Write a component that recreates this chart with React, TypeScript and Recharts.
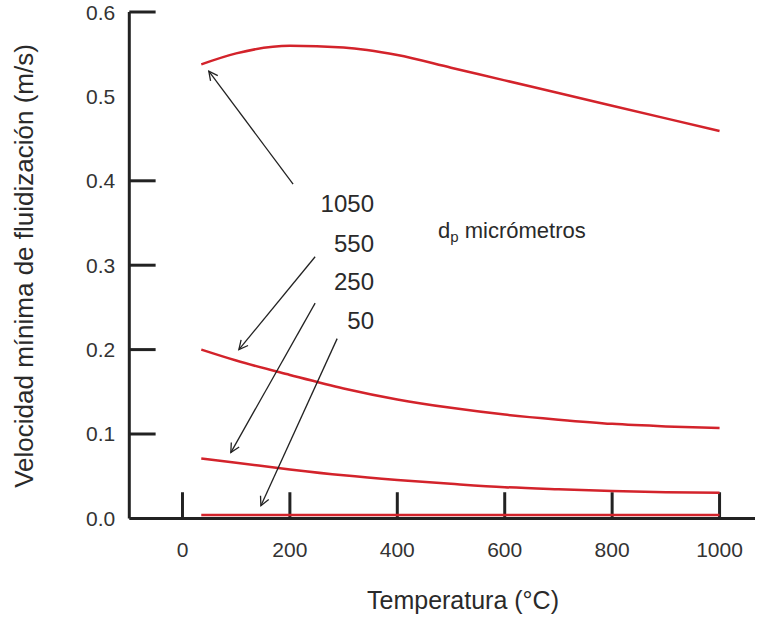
import { LineChart, Line, XAxis, YAxis, ReferenceLine } from "recharts"

const temps = [35, 100, 200, 300, 400, 500, 600, 700, 800, 900, 1000]
const umf1050 = [0.538, 0.551, 0.56, 0.558, 0.549, 0.534, 0.519, 0.504, 0.489, 0.474, 0.459]
const umf550 = [0.2, 0.187, 0.17, 0.154, 0.141, 0.131, 0.123, 0.117, 0.112, 0.109, 0.107]
const umf250 = [0.071, 0.066, 0.058, 0.051, 0.0455, 0.041, 0.037, 0.0345, 0.0325, 0.031, 0.0305]
const umf50 = [0.004, 0.004, 0.004, 0.004, 0.004, 0.004, 0.004, 0.004, 0.004, 0.004, 0.004]

const xTicks = [0, 200, 400, 600, 800, 1000]
const yTicks = [0, 0.1, 0.2, 0.3, 0.4, 0.5, 0.6]
const yInnerTicks = [0.1, 0.2, 0.3, 0.4, 0.6]

// arrows: [tailT, tailV, tipT, tipV]
const arrows = [
  [206, 0.396, 49, 0.53],
  [247, 0.31, 105, 0.2],
  [247, 0.255, 90, 0.078],
  [288, 0.213, 146, 0.015],
]
const sizeLabels = ["1050", "550", "250", "50"]

const data = temps.map((t, i) => ({
  t,
  d1050: umf1050[i],
  d550: umf550[i],
  d250: umf250[i],
  d50: umf50[i],
}))

const X_MIN = -99
const X_MAX = 1066
const RED = "#d3232b"
const INK = "#222"
const FONT = "'Liberation Sans', Arial, sans-serif"

export default function App() {
  const series = ["d1050", "d550", "d250", "d50"]
  return (
    <div style={{ position: "absolute", left: 0, top: 0, width: 759, height: 617, background: "#fff" }}>
      <LineChart
        width={759}
        height={617}
        data={data}
        margin={{ top: 12, right: 4, bottom: 58.6, left: 59.3 }}
        style={{ fontFamily: FONT }}
      >
        <defs>
          <marker
            id="arrowHead"
            markerWidth={12}
            markerHeight={12}
            refX={10}
            refY={6}
            orient="auto"
            markerUnits="userSpaceOnUse"
          >
            <path d="M1,1.5 L10,6 L1,10.5" fill="none" stroke={INK} strokeWidth={1.3} />
          </marker>
        </defs>
        <XAxis
          dataKey="t"
          type="number"
          domain={[X_MIN, X_MAX]}
          ticks={xTicks}
          height={40}
          tickLine={false}
          tickSize={0}
          tickMargin={24}
          axisLine={{ stroke: INK, strokeWidth: 3 }}
          tick={{ fontSize: 21, fill: "#333", fontFamily: FONT }}
          allowDataOverflow
        />
        <YAxis
          type="number"
          domain={[0, 0.6]}
          ticks={yTicks}
          width={70}
          tickLine={false}
          tickSize={0}
          tickMargin={14}
          tickFormatter={(v: number) => v.toFixed(1)}
          axisLine={{ stroke: INK, strokeWidth: 3 }}
          tick={{ fontSize: 21, fill: "#333", fontFamily: FONT }}
        />
        {yInnerTicks.map((v) => (
          <ReferenceLine
            key={"yt" + v}
            segment={[{ x: X_MIN, y: v }, { x: X_MIN + 49, y: v }]}
            stroke={INK}
            strokeWidth={3}
          />
        ))}
        {xTicks.map((t) => (
          <ReferenceLine
            key={"xt" + t}
            segment={[{ x: t, y: 0 }, { x: t, y: 0.031 }]}
            stroke={INK}
            strokeWidth={3}
          />
        ))}
        {series.map((k) => (
          <Line
            key={k}
            dataKey={k}
            type="monotone"
            stroke={RED}
            strokeWidth={2.5}
            dot={false}
            activeDot={false}
            isAnimationActive={false}
          />
        ))}
        {arrows.map((a, i) => (
          <ReferenceLine
            key={"ar" + i}
            segment={[{ x: a[0], y: a[1] }, { x: a[2], y: a[3] }]}
            stroke={INK}
            strokeWidth={1.3}
            markerEnd="url(#arrowHead)"
          />
        ))}
        <g fontFamily={FONT} fill="#2a2a2a">
          {sizeLabels.map((s, i) => (
            <text key={s} x={374} y={[212, 252, 290, 329][i]} textAnchor="end" fontSize={24}>
              {s}
            </text>
          ))}
          <text x={438} y={238} fontSize={22}>
            d<tspan fontSize={15} dy={4}>p</tspan>
            <tspan dy={-4}> micrómetros</tspan>
          </text>
          <text x={463} y={609} textAnchor="middle" fontSize={25}>
            Temperatura (°C)
          </text>
          <text x={33} y={266} textAnchor="middle" fontSize={26} transform="rotate(-90 33 266)">
            Velocidad mínima de fluidización (m/s)
          </text>
        </g>
      </LineChart>
    </div>
  )
}
